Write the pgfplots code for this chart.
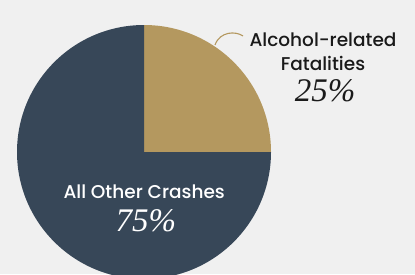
\documentclass[border=0pt]{standalone}
\usepackage{pgfplots}
\usepackage{pgfplotstable}
\pgfplotsset{compat=1.18}
\usepackage{fontspec}
\setmainfont{Poppins Medium}
\newfontfamily\pctfont{Liberation Serif}
\definecolor{bgc}{HTML}{F0F0F0}
\definecolor{goldc}{HTML}{B4985F}
\definecolor{navyc}{HTML}{374758}
\definecolor{txtc}{HTML}{1A1A1A}
\pgfplotstableread{
label value
Alcohol 25
Other 75
}\piedata
\begin{document}
\begin{tikzpicture}
\pgfplotstablegetelem{0}{value}\of\piedata \pgfmathsetmacro{\va}{\pgfplotsretval}
\pgfplotstablegetelem{1}{value}\of\piedata \pgfmathsetmacro{\vb}{\pgfplotsretval}
\pgfmathsetmacro{\fa}{\va/(\va+\vb)}
\pgfmathsetmacro{\fb}{\vb/(\va+\vb)}
\pgfmathsetmacro{\angA}{90-360*\fa}
\pgfmathsetmacro{\angB}{\angA-360*\fb}
\fill[bgc] (0,0) rectangle (415pt,274pt);
\begin{axis}[at={(0,0)}, anchor=south west, x=1pt, y=1pt, scale only axis,
  xmin=0, xmax=415, ymin=0, ymax=274, hide axis, clip=true]
  \fill[goldc] (axis cs:144,122) -- (axis cs:144,249) arc[start angle=90, end angle=\angA, radius=127pt] -- cycle;
  \fill[navyc] (axis cs:144,122) -- (axis cs:271,122) arc[start angle=\angA, end angle=\angB, radius=127pt] -- cycle;
  \draw[goldc, line width=1.1pt] (axis cs:243,238) .. controls (axis cs:236,243) and (axis cs:220,243) .. (axis cs:215,229);
  \node[anchor=base, text=txtc, font=\fontsize{18.5}{20}\selectfont] at (axis cs:323,227.3) {Alcohol-related};
  \node[anchor=base, text=txtc, font=\fontsize{18.5}{20}\selectfont] at (axis cs:323,203.3) {Fatalities};
  \node[anchor=base, text=txtc, font=\fontsize{33}{35}\pctfont\itshape] at (axis cs:325,172.3) {25\%};
  \node[anchor=base, text=white, font=\fontsize{18.5}{20}\selectfont] at (axis cs:144.2,75.7) {All Other Crashes};
  \node[anchor=base, text=white, font=\fontsize{33}{35}\pctfont\itshape] at (axis cs:145.8,42.3) {75\%};
\end{axis}
\pgfresetboundingbox
\path[use as bounding box] (0,0) rectangle (415pt,274pt);
\end{tikzpicture}
\end{document}
